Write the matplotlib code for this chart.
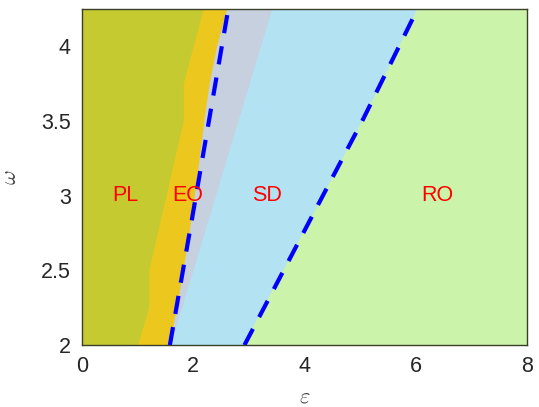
import numpy as np
import matplotlib
matplotlib.use('Agg')
import matplotlib.pyplot as plt

# ---------------------------------------------------------------
# data

x_lim = (0, 8)
y_lim = (2, 4.25)

# PL | EO boundary
pl_y = [2.0, 2.25, 2.5, 3.5, 3.75, 4.25]
pl_x = [1.01, 1.21, 1.21, 1.83, 1.83, 2.19]

# EO | grey boundary
eo_y = [2.0, 2.12, 2.44, 2.77, 3.11, 3.53, 3.76, 4.0, 4.25]
eo_x = [1.55, 1.64, 1.80, 1.94, 2.07, 2.21, 2.30, 2.43, 2.61]

# grey | SD boundary
gr_y = [2.0, 4.25]
gr_x = [1.60, 3.42]

# SD | RO boundary
sd_y = [2.0, 2.93, 3.51, 4.25]
sd_x = [2.90, 4.23, 5.05, 6.03]

# dashed lines
dash1_y = [2.0, 2.85, 4.25]
dash1_x = [1.58, 1.98, 2.63]
dash2_y = [2.0, 2.93, 3.51, 4.25]
dash2_x = [2.92, 4.23, 5.05, 6.03]

labels = ['PL', 'EO', 'SD', 'RO']
label_x = [0.78, 1.90, 3.32, 6.38]
label_y = [3.0, 3.0, 3.0, 3.0]

colors = {
    'RO': '#cbf3aa',
    'SD': '#b3e3f3',
    'grey': '#c6d0de',
    'EO': '#ecc81e',
    'PL': '#c5ca30',
}

# ---------------------------------------------------------------

def left_poly(xs, ys):
    # polygon between x=0 and the boundary
    px = [0] + list(xs) + [0]
    py = [ys[0]] + list(ys) + [ys[-1]]
    return px, py


plt.rcParams['font.family'] = ['Liberation Sans', 'DejaVu Sans']
plt.rcParams['mathtext.fontset'] = 'cm'

fig = plt.figure(figsize=(5.39, 4.07), dpi=100)
ax = fig.add_axes([0.152, 0.152, 0.826, 0.826])

ax.set_facecolor(colors['RO'])
for key, (bx, by) in [('SD', (sd_x, sd_y)), ('grey', (gr_x, gr_y)),
                      ('EO', (eo_x, eo_y)), ('PL', (pl_x, pl_y))]:
    px, py = left_poly(bx, by)
    ax.fill(px, py, color=colors[key], lw=0)

for xs, ys in [(dash1_x, dash1_y), (dash2_x, dash2_y)]:
    ax.plot(xs, ys, color='#0000ff', lw=3.0, dashes=(4.4, 3.2),
            dash_capstyle='butt')

for t, x, y in zip(labels, label_x, label_y):
    ax.text(x, y, t, color='#ff0000', fontsize=15.5, ha='center', va='center')

ax.set_xlim(*x_lim)
ax.set_ylim(*y_lim)
ax.set_xticks([0, 2, 4, 6, 8])
ax.set_yticks([2, 2.5, 3, 3.5, 4])
ax.set_yticklabels(['2', '2.5', '3', '3.5', '4'])
ax.tick_params(length=0, labelsize=15.5, colors='#262626', pad=8)
for s in ax.spines.values():
    s.set_color('#3a3f2a')
    s.set_linewidth(1.0)

ax.set_xlabel(r'$\varepsilon$', fontsize=16, color='#404040', labelpad=7)
ax.set_ylabel(r'$\omega$', fontsize=16, color='#404040', labelpad=14)

fig.savefig('out.png', dpi=100)
